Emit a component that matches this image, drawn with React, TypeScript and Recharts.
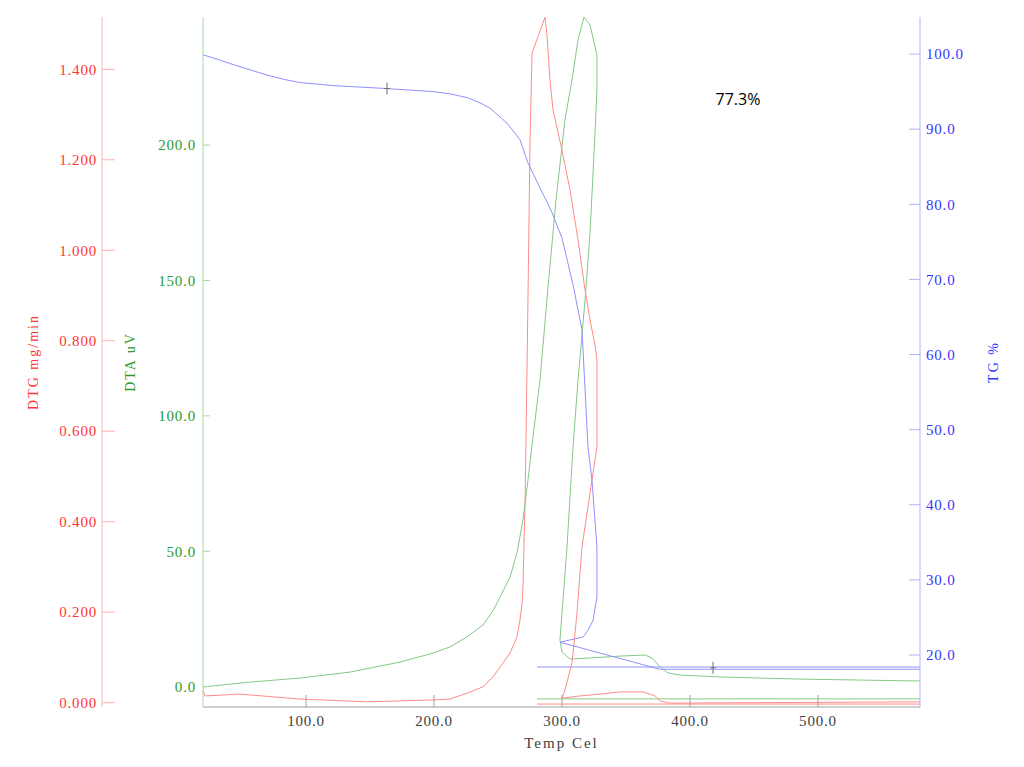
import React from 'react';
import { ComposedChart, Line, XAxis, YAxis, ReferenceDot } from 'recharts';

// TG curve: temperature (Cel) and mass (%)
const tgTemp = [19.5, 28.9, 43.0, 56.3, 69.5, 83.6, 95.3, 121.1, 142.2, 163.3, 181.3, 199.2, 212.5, 225.8, 235.9, 243.8, 257.0, 267.2, 273.4, 282.8, 292.2, 300.0, 308.6, 315.6, 320.3, 323.4, 327.3, 327.3, 324.2, 320.3, 316.4, 298.4, 376.6, 579.7];
const tgPct = [99.9, 99.4, 98.6, 97.9, 97.2, 96.6, 96.2, 95.8, 95.6, 95.4, 95.2, 95.0, 94.7, 94.2, 93.5, 92.8, 90.8, 88.6, 85.5, 82.2, 78.9, 75.5, 69.3, 63.3, 47.7, 43.3, 34.4, 27.7, 24.6, 23.3, 22.4, 21.7, 18.1, 18.1];

// DTA curve (uV)
const dtaTemp = [19.5, 56.3, 95.3, 134.4, 173.4, 199.2, 212.5, 225.8, 238.3, 246.1, 251.6, 259.4, 264.8, 269.5, 273.4, 277.3, 282.8, 289.1, 295.3, 302.3, 307.8, 312.5, 317.2, 321.9, 327.3, 327.3, 325.8, 321.9, 318.0, 312.5, 308.6, 303.9, 300.0, 298.4, 300.0, 306.3, 321.9, 345.3, 364.8, 370.3, 376.6, 382.8, 392.2, 423.4, 485.9, 579.7];
const dtaUv = [-0.1, 1.7, 3.2, 5.4, 9.1, 12.4, 14.7, 18.4, 22.8, 28.0, 33.1, 40.5, 49.4, 61.6, 76.3, 92.2, 113.2, 147.6, 179.7, 209.3, 224.0, 238.8, 247.3, 244.3, 233.3, 220.4, 204.5, 167.5, 142.8, 113.2, 88.5, 51.6, 27.2, 17.2, 12.8, 10.2, 10.6, 11.3, 11.7, 10.6, 7.3, 5.1, 4.3, 3.6, 2.8, 2.1];

// DTG curve (mg/min)
const dtgTemp = [19.5, 21.1, 48.4, 95.3, 147.7, 199.2, 212.5, 225.8, 238.3, 246.1, 253.9, 259.4, 264.8, 267.2, 268.8, 269.5, 271.1, 271.9, 273.4, 275.0, 276.6, 286.7, 288.3, 290.6, 293.0, 300.0, 306.3, 312.5, 318.0, 321.9, 325.8, 327.3, 327.3, 323.4, 315.6, 311.7, 307.8, 302.3, 300.0, 314.1, 329.7, 345.3, 363.3, 372.7, 376.6, 384.4, 579.7];
const dtgRate = [0.028, 0.015, 0.019, 0.008, 0.002, 0.006, 0.008, 0.021, 0.035, 0.057, 0.088, 0.110, 0.145, 0.183, 0.220, 0.256, 0.441, 0.587, 0.890, 1.237, 1.436, 1.515, 1.475, 1.376, 1.310, 1.221, 1.133, 1.023, 0.912, 0.846, 0.790, 0.757, 0.565, 0.492, 0.344, 0.198, 0.088, 0.028, 0.010, 0.015, 0.019, 0.024, 0.024, 0.015, 0.004, -0.001, 0.002];

// flat base lines drawn from 280 Cel to the end
const baseTemp = [280.5, 579.7];
const tgBase = [18.4, 18.4];
const dtaBase = [-4.5, -4.5];
const dtgBase = [-0.003, -0.003];

// cross markers on TG
const markTemp = [163.3, 418.0];
const markPct = [95.4, 18.3];

const xTicks = [100, 200, 300, 400, 500];
const dtgTicks = [0, 0.2, 0.4, 0.6, 0.8, 1.0, 1.2, 1.4];
const dtaTicks = [0, 50, 100, 150, 200];
const tgTicks = [20, 30, 40, 50, 60, 70, 80, 90, 100];

const rows = (xs: number[], ys: number[]) => xs.map((t, i) => ({ t, v: ys[i] }));

const SERIF = '"Liberation Serif", serif';
const RED = '#ff8a8a';
const GREEN = '#85c885';
const BLUE = '#9090ff';

const leftTick = (color: string, lineColor: string, gap: number, len: number, digits: number) => (p: any) => (
    <g>
        <line x1={p.x + gap} x2={p.x + gap + len} y1={p.y} y2={p.y} stroke={lineColor} />
        <text x={p.x} y={p.y} dy="0.35em" textAnchor="end" fill={color} fontFamily={SERIF} fontSize={15} letterSpacing={0.8}>
            {Number(p.payload.value).toFixed(digits)}
        </text>
    </g>
);

const rightTick = (color: string, lineColor: string, gap: number, len: number, digits: number) => (p: any) => (
    <g>
        <line x1={p.x - gap} x2={p.x - gap - len} y1={p.y} y2={p.y} stroke={lineColor} />
        <text x={p.x} y={p.y} dy="0.35em" textAnchor="start" fill={color} fontFamily={SERIF} fontSize={15} letterSpacing={0.8}>
            {Number(p.payload.value).toFixed(digits)}
        </text>
    </g>
);

const bottomTick = (p: any) => (
    <g>
        <line x1={p.x} x2={p.x} y1={p.y - 8} y2={p.y - 20} stroke="#a0a0a0" />
        <text x={p.x} y={p.y} dy="0.71em" textAnchor="middle" fill="#404040" fontFamily={SERIF} fontSize={15} letterSpacing={0.8}>
            {Number(p.payload.value).toFixed(1)}
        </text>
    </g>
);

const cross = (p: any) => (
    <g stroke="#707070">
        <line x1={p.cx} x2={p.cx} y1={p.cy - 6} y2={p.cy + 6} />
        <line x1={p.cx - 3} x2={p.cx + 3} y1={p.cy} y2={p.cy} />
    </g>
);

export default function App() {
    return (
        <div style={{ position: 'absolute', left: 0, top: 0, width: 1024, height: 767, background: '#fff' }}>
            <ComposedChart width={1024} height={767} margin={{ top: 17, right: 24, bottom: 15, left: 12 }}>
                <XAxis
                    type="number"
                    dataKey="t"
                    domain={[19.5, 579.7]}
                    ticks={xTicks}
                    allowDataOverflow
                    height={45}
                    tickLine={false}
                    tickSize={0}
                    tickMargin={8}
                    axisLine={{ stroke: '#a0a0a0' }}
                    tick={bottomTick}
                    label={{ value: 'Temp Cel', position: 'insideBottom', offset: 4, fill: '#404040', fontFamily: SERIF, fontSize: 15, letterSpacing: 2 }}
                />
                <XAxis xAxisId="top" orientation="top" type="number" domain={[19.5, 579.7]} height={0} tick={false} tickLine={false} axisLine={{ stroke: '#a0a0a0' }} />
                <YAxis
                    yAxisId="dta"
                    orientation="left"
                    width={101}
                    domain={[-7.5, 247.3]}
                    ticks={dtaTicks}
                    allowDataOverflow
                    tickLine={false}
                    tickSize={0}
                    tickMargin={7}
                    axisLine={{ stroke: '#a8d8a8' }}
                    tick={leftTick('#2a9a2a', '#a8d8a8', 7, 7, 1)}
                    label={{ value: 'DTA uV', angle: -90, position: 'insideLeft', offset: 28, fill: '#2a9a2a', fontFamily: SERIF, fontSize: 14, letterSpacing: 2, style: { textAnchor: 'middle' } }}
                />
                <YAxis
                    yAxisId="dtg"
                    orientation="left"
                    width={90}
                    domain={[-0.0095, 1.5156]}
                    ticks={dtgTicks}
                    allowDataOverflow
                    tickLine={false}
                    tickSize={0}
                    tickMargin={5}
                    axisLine={{ stroke: '#ffb0b0' }}
                    tick={leftTick('#ff3535', '#ffb0b0', 5, 13, 3)}
                    label={{ value: 'DTG mg/min', angle: -90, position: 'insideLeft', offset: 21, fill: '#ff3535', fontFamily: SERIF, fontSize: 14, letterSpacing: 2, style: { textAnchor: 'middle' } }}
                />
                <YAxis
                    yAxisId="tg"
                    orientation="right"
                    width={80}
                    domain={[13.08, 104.93]}
                    ticks={tgTicks}
                    allowDataOverflow
                    tickLine={false}
                    tickSize={0}
                    tickMargin={6}
                    axisLine={{ stroke: '#b0b0ff' }}
                    tick={rightTick('#3535ff', '#b0b0ff', 6, 11, 1)}
                    label={{ value: 'TG %', angle: -90, position: 'insideRight', offset: 7, fill: '#3535ff', fontFamily: SERIF, fontSize: 14, letterSpacing: 2, style: { textAnchor: 'middle' } }}
                />

                <Line yAxisId="tg" data={rows(baseTemp, tgBase)} dataKey="v" type="linear" stroke={BLUE} strokeWidth={1} dot={false} isAnimationActive={false} />
                <Line yAxisId="dta" data={rows(baseTemp, dtaBase)} dataKey="v" type="linear" stroke={GREEN} strokeWidth={1} dot={false} isAnimationActive={false} />
                <Line yAxisId="dtg" data={rows(baseTemp, dtgBase)} dataKey="v" type="linear" stroke={RED} strokeWidth={1} dot={false} isAnimationActive={false} />

                <Line yAxisId="dtg" data={rows(dtgTemp, dtgRate)} dataKey="v" type="linear" stroke={RED} strokeWidth={1} dot={false} isAnimationActive={false} />
                <Line yAxisId="dta" data={rows(dtaTemp, dtaUv)} dataKey="v" type="linear" stroke={GREEN} strokeWidth={1} dot={false} isAnimationActive={false} />
                <Line yAxisId="tg" data={rows(tgTemp, tgPct)} dataKey="v" type="linear" stroke={BLUE} strokeWidth={1} dot={false} isAnimationActive={false} />

                {markTemp.map((t, i) => (
                    <ReferenceDot key={i} yAxisId="tg" x={t} y={markPct[i]} r={0} shape={cross} />
                ))}
                <ReferenceDot
                    yAxisId="tg"
                    x={437.5}
                    y={93.9}
                    r={0}
                    shape={(p: any) => (
                        <text x={p.cx} y={p.cy} dy="0.35em" textAnchor="middle" fill="#000" fontFamily='"Open Sans", sans-serif' fontSize={16}>
                            77.3%
                        </text>
                    )}
                />
            </ComposedChart>
        </div>
    );
}
